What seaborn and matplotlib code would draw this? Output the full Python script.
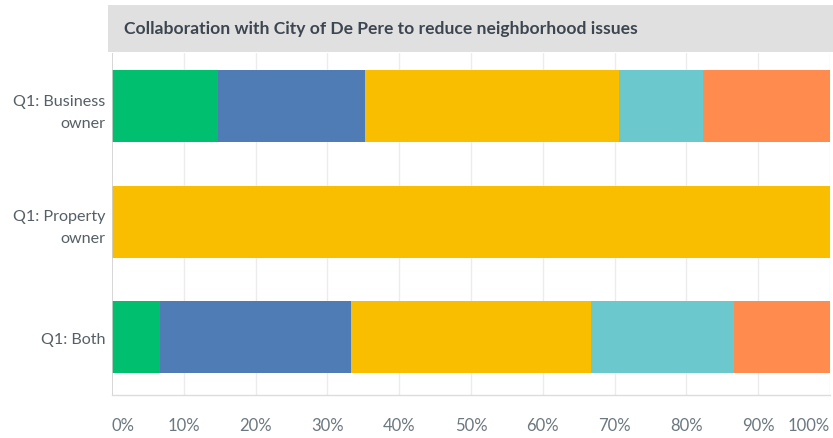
import matplotlib
matplotlib.use("Agg")
import matplotlib.pyplot as plt
import matplotlib.patches as mpatches
import numpy as np
import pandas as pd
import seaborn as sns

# Survey groups and answer shares (percent of respondents)
groups = ["Q1: Business\nowner", "Q1: Property\nowner", "Q1: Both"]
answers = ["A1", "A2", "A3", "A4", "A5"]
share_a1 = [14.71, 0.0, 6.67]
share_a2 = [20.59, 0.0, 26.67]
share_a3 = [35.29, 100.0, 33.33]
share_a4 = [11.76, 0.0, 20.00]
share_a5 = [17.65, 0.0, 13.33]
colors = ["#00BF6F", "#507CB6", "#F9BE00", "#6BC8CD", "#FF8B4F"]
tick_values = [0, 10, 20, 30, 40, 50, 60, 70, 80, 90, 100]
tick_labels = [f"{v}%" for v in tick_values]
title = "Collaboration with City of De Pere to reduce neighborhood issues"

sns.set_theme(style="white")
plt.rcParams["font.family"] = ["Lato", "DejaVu Sans"]

W, H = 833, 439
fig = plt.figure(figsize=(W / 100, H / 100), dpi=100)
ax = fig.add_axes([112 / W, 1 - 396 / H, (830 - 112) / W, (396 - 54) / H])

# Title band
fig.patches.append(mpatches.Rectangle((108 / W, 1 - 53 / H), (833 - 108) / W, 47 / H,
                                      transform=fig.transFigure, facecolor="#E0E0E0",
                                      edgecolor="none", zorder=0))
fig.text(124 / W, 1 - 29 / H, title, fontsize=12.6, fontweight="bold",
         color="#3d4650", va="center", ha="left")

series = [share_a1, share_a2, share_a3, share_a4, share_a5]
df = pd.DataFrame({"group": groups})
left = np.zeros(len(groups))
for name, vals, col in zip(answers, series, colors):
    df["value"] = vals
    df["left"] = left
    sns.barplot(data=df, y="group", x="value", left=df["left"], color=col,
                orient="h", width=0.62, ax=ax, saturation=1, linewidth=0, zorder=3)
    left = left + np.array(vals)

ax.set_xlim(0, 100)
ax.set_ylim(2.5, -0.46)
ax.set_xlabel("")
ax.set_ylabel("")

for v in tick_values[1:]:
    ax.axvline(v, color="#ececec", lw=1, zorder=1)
ax.axvline(0, color="#d0d0d0", lw=1.2, zorder=4)

for s in ["top", "right", "left"]:
    ax.spines[s].set_visible(False)
ax.spines["bottom"].set_color("#dcdcdc")
ax.spines["bottom"].set_linewidth(1)

ax.set_xticks(tick_values)
ax.set_xticklabels(tick_labels, fontsize=12, color="#6b787f")
labs = ax.get_xticklabels()
labs[0].set_ha("left")
labs[-1].set_ha("right")
ax.tick_params(axis="x", length=0, pad=16)
ax.tick_params(axis="y", length=0, pad=5, labelsize=11.6, labelcolor="#555f66")
for t in ax.get_yticklabels():
    t.set_ha("right")
    t.set_multialignment("right")
    t.set_linespacing(1.75)

fig.savefig("out.png", dpi=100)
